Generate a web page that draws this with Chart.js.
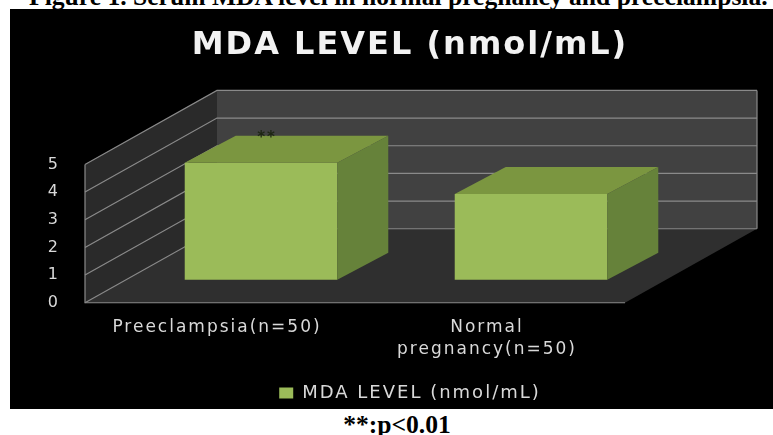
<!DOCTYPE html>
<html>
<head>
<meta charset="utf-8">
<title>MDA level</title>
<script src="https://cdn.jsdelivr.net/npm/chart.js@4"></script>
<style>
  html, body { margin: 0; padding: 0; background: #fff; overflow: hidden; }
  body { width: 773px; height: 435px; position: relative; }
  #chart { position: absolute; left: 10px; top: 9px; background: #000; }
  .cap { position: absolute; font-family: "Liberation Serif", serif; font-weight: bold; color: #000; white-space: nowrap; font-size: 25.6px; }
  #figCap { top: -18px; left: 29px; }
  #pCap { top: 410px; left: 0; width: 794px; text-align: center; }
</style>
</head>
<body>
<div class="cap" id="figCap">Figure 1. Serum MDA level in normal pregnancy and preeclampsia.</div>
<canvas id="chart" width="763" height="400"></canvas>
<div class="cap" id="pCap">**:p&lt;0.01</div>
<script>
// data
const categories = [["Preeclampsia(n=50)"], ["Normal", "pregnancy(n=50)"]];
const mdaValues = [4.23, 3.1];
const seriesName = "MDA LEVEL (nmol/mL)";
const yTicks = [0, 1, 2, 3, 4, 5];
const sigMarks = ["**", ""];

const uiFont = "'DejaVu Sans', sans-serif";

// fake 3D geometry, all in px
const WALL = { dx: 132, dy: -74 };
const BAR_SHIFT = { dx: 41, dy: -23 };
const BAR_DEPTH = { dx: 51, dy: -27 };

function poly(ctx, pts, fill) {
  ctx.beginPath();
  pts.forEach((p, i) => (i ? ctx.lineTo(p[0], p[1]) : ctx.moveTo(p[0], p[1])));
  ctx.closePath();
  ctx.fillStyle = fill;
  ctx.fill();
}

const fake3d = {
  id: "fake3d",
  // the original text is stretched wide, spacing gets close to that
  beforeUpdate(chart) {
    chart.ctx.letterSpacing = "2px";
  },
  // walls, floor and grid lines
  beforeDatasetsDraw(chart) {
    const { ctx, chartArea: a, scales: { y } } = chart;
    const L = a.left, R = a.right, T = a.top, B = a.bottom;
    const bx = WALL.dx, by = WALL.dy;
    ctx.save();
    poly(ctx, [[L + bx, T + by], [R + bx, T + by], [R + bx, B + by], [L + bx, B + by]], "#414141");
    poly(ctx, [[L, T], [L + bx, T + by], [L + bx, B + by], [L, B]], "#2a2a2a");
    poly(ctx, [[L, B], [L + bx, B + by], [R + bx, B + by], [R, B]], "#2f2f2f");

    ctx.strokeStyle = "#8a8a8a";
    ctx.lineWidth = 1.2;
    yTicks.forEach(v => {
      const py = y.getPixelForValue(v);
      ctx.beginPath();
      ctx.moveTo(L, py);
      ctx.lineTo(L + bx, py + by);
      ctx.lineTo(R + bx, py + by);
      ctx.stroke();
    });
    ctx.beginPath();
    ctx.moveTo(L, T);
    ctx.lineTo(L, B);
    ctx.lineTo(R, B);
    ctx.moveTo(R + bx, T + by);
    ctx.lineTo(R + bx, B + by);
    ctx.stroke();
    ctx.restore();
  },
  beforeDatasetDraw(chart) {
    chart.ctx.save();
    chart.ctx.translate(BAR_SHIFT.dx, BAR_SHIFT.dy);
  },
  // top and side of each box, still inside the shift
  afterDatasetDraw(chart, args) {
    const { ctx } = chart;
    const dx = BAR_DEPTH.dx, dy = BAR_DEPTH.dy;
    chart.getDatasetMeta(args.index).data.forEach((bar, i) => {
      const l = bar.x - bar.width / 2, r = bar.x + bar.width / 2;
      poly(ctx, [[l, bar.y], [l + dx, bar.y + dy], [r + dx, bar.y + dy], [r, bar.y]], "#7b9640");
      poly(ctx, [[r, bar.y], [r + dx, bar.y + dy], [r + dx, bar.base + dy], [r, bar.base]], "#66823a");
      if (sigMarks[i]) {
        ctx.fillStyle = "#1d2613";
        ctx.font = "bold 15px " + uiFont;
        ctx.textAlign = "center";
        ctx.textBaseline = "middle";
        ctx.fillText(sigMarks[i], bar.x + 6, bar.y + dy + 2);
      }
    });
    ctx.restore();
  }
};

new Chart(document.getElementById("chart"), {
  type: "bar",
  data: {
    labels: categories,
    datasets: [{
      label: seriesName,
      data: mdaValues,
      backgroundColor: "#9bbb59",
      barPercentage: 0.565,
      categoryPercentage: 1,
      clip: false
    }]
  },
  options: {
    responsive: false,
    animation: false,
    layout: { padding: { left: 37, bottom: -3 } },
    plugins: {
      tooltip: { enabled: false },
      title: {
        display: true,
        text: seriesName,
        color: "#f2f2f2",
        font: { family: uiFont, size: 32, weight: "bold" },
        padding: { top: 17, bottom: 100 }
      },
      legend: {
        position: "bottom",
        labels: {
          color: "#d9d9d9",
          font: { family: uiFont, size: 18 },
          boxWidth: 14,
          boxHeight: 11,
          padding: 4
        }
      }
    },
    scales: {
      x: {
        grid: { display: false, drawTicks: false },
        border: { display: false },
        ticks: {
          color: "#d9d9d9",
          autoSkip: false,
          maxRotation: 0,
          padding: 14,
          labelOffset: -3,
          font: { family: uiFont, size: 17, lineHeight: 1.294 }
        },
        afterFit(s) { s.height = 77.25; }
      },
      y: {
        min: 0,
        max: 5,
        afterFit(s) { s.width = 38; },
        afterBuildTicks(s) { s.ticks = yTicks.map(v => ({ value: v })); },
        grid: { display: false, drawTicks: false },
        border: { display: false },
        ticks: { color: "#d9d9d9", padding: 25, font: { family: uiFont, size: 16 } }
      },
      // empty axis, only keeps the plot clear of the right side
      rightPad: {
        position: "right",
        grid: { display: false, drawTicks: false },
        border: { display: false },
        ticks: { display: false },
        afterFit(s) { s.width = 148; }
      }
    }
  },
  plugins: [fake3d]
});
</script>
</body>
</html>
